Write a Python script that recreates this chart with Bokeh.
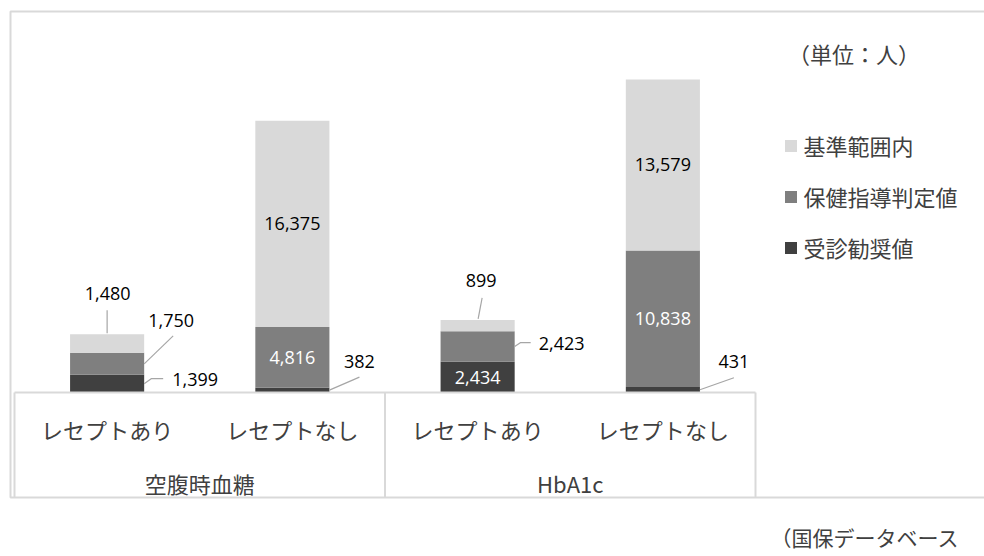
from bokeh.plotting import figure
from bokeh.models import (Range1d, ColumnDataSource, Legend, LegendItem, BoxAnnotation, Label)
from bokeh.core.properties import value
from bokeh.embed import file_html
from bokeh.resources import INLINE

# ---------------- data ----------------
groups = ["空腹時血糖", "空腹時血糖", "HbA1c", "HbA1c"]
receipts = ["レセプトあり", "レセプトなし", "レセプトあり", "レセプトなし"]
series_names = ["受診勧奨値", "保健指導判定値", "基準範囲内"]
recommend = [1399, 382, 2434, 431]      # 受診勧奨値
guidance = [1750, 4816, 2423, 10838]    # 保健指導判定値
normal = [1480, 16375, 899, 13579]      # 基準範囲内
unit_note = "（単位：人）"
source_note = "（国保データベース"

# ---------------- layout / style ----------------
W, H = 984, 556
colors = ["#404040", "#7f7f7f", "#d9d9d9"]
JP = "Noto Sans CJK JP"
NUM = "Open Sans"
Y_MAX = 30000
PLOT_L, PLOT_R, PLOT_T, BASE = 14, 755, 14, 392   # plot area in canvas pixels
n_cat = len(receipts)
cat_px = (PLOT_R - PLOT_L) / n_cat                  # pixels per category
ppu = (BASE - PLOT_T) / Y_MAX                       # pixels per value unit
BAR_W = 0.4
GRID = "#d9d9d9"


def X(px):   # canvas pixel -> x data
    return (px - PLOT_L) / cat_px


def Y(py):   # canvas pixel -> y data
    return (BASE - py) / ppu


p = figure(width=W, height=H, x_range=Range1d(X(0), X(W)), y_range=Range1d(Y(H), Y(0)),
           min_border=0, x_axis_location=None, y_axis_location=None,
           output_backend="svg", toolbar_location=None)
p.outline_line_color = None
p.xgrid.visible = False
p.ygrid.visible = False
p.background_fill_color = "white"
p.border_fill_color = "white"

xs = [i + 0.5 for i in range(n_cat)]
series = [recommend, guidance, normal]
keys = ["rec", "gui", "nor"]
src = ColumnDataSource(dict(x=xs, rec=recommend, gui=guidance, nor=normal))
renderers = p.vbar_stack(keys, x="x", width=BAR_W, color=colors, line_color=None, source=src)

# ---------------- outer border ----------------
p.add_layout(BoxAnnotation(left=X(10), right=X(W + 20), top=Y(11), bottom=Y(497),
                           fill_alpha=0, line_color=GRID, line_alpha=1, line_width=2))

# ---------------- category table (axis) ----------------
bottom_y = Y(497)
group_names = []
for g in groups:
    if g not in group_names:
        group_names.append(g)
bounds = [0]
for g in group_names:
    bounds.append(bounds[-1] + groups.count(g))
p.segment(x0=[bounds[0]], y0=[0], x1=[bounds[-1]], y1=[0], line_color=GRID, line_width=2)
p.segment(x0=bounds, y0=[0] * len(bounds), x1=bounds, y1=[bottom_y] * len(bounds),
          line_color=GRID, line_width=2)

p.text(x=xs, y=[Y(428)] * n_cat, text=receipts, text_font=value(JP), text_font_size="22px",
       text_color="#404040", text_align="center", text_baseline="middle")
gx = [(bounds[i] + bounds[i + 1]) / 2 for i in range(len(group_names))]
p.text(x=gx, y=[Y(482)] * len(gx), text=group_names, text_font=value(JP), text_font_size="22px",
       text_color="#404040", text_align="center", text_baseline="middle")

# ---------------- data labels ----------------
px_x = 1 / cat_px
px_y = 1 / ppu
# outside labels: (series, category) -> anchor, x shift (cat units), text offset px, leader pts px
outside = {
    (2, 0): ("top", 0.0, 0.5, -41, [(0.0, -1), (0.0, -24)]),
    (1, 0): ("mid", BAR_W / 2, 27, -43, [(0, 0), (29, -28)]),
    (0, 0): ("mid", BAR_W / 2, 51, -4, [(0, 0), (7, -5), (19, -5)]),
    (0, 1): ("mid", BAR_W / 2, 30, -29, [(0, 0), (30, -13)]),
    (2, 2): ("top", 0.0, 3.5, -39.5, [(0.5, -1), (4.5, -22)]),
    (1, 2): ("mid", BAR_W / 2, 47, -3, [(0, 0), (6, -4), (16, -4)]),
    (0, 3): ("mid", BAR_W / 2, 34, -28, [(0, 0), (34, -12)]),
}

lab = dict(x=[], y=[], text=[], xo=[], yo=[], color=[])
lead_xs, lead_ys = [], []
for ci in range(n_cat):
    base = 0
    for si, vals in enumerate(series):
        v = vals[ci]
        mid = base + v / 2
        top = base + v
        if (si, ci) in outside:
            anchor, xshift, dx, dy, lead = outside[(si, ci)]
            ay = top if anchor == "top" else mid
            axc = xs[ci] + xshift
            lab["x"].append(axc)
            lab["y"].append(ay)
            lab["xo"].append(dx)
            lab["yo"].append(dy)
            lab["color"].append("#000000")
            lead_xs.append([axc + a * px_x for a, b in lead])
            lead_ys.append([ay - b * px_y for a, b in lead])
        else:
            lab["x"].append(xs[ci])
            lab["y"].append(mid)
            lab["xo"].append(0)
            lab["yo"].append(0)
            lab["color"].append("#ffffff" if si < 2 else "#000000")
        lab["text"].append(f"{v:,}")
        base = top

p.multi_line(lead_xs, lead_ys, line_color="#a6a6a6", line_width=1.2)
p.text(x="x", y="y", text="text", x_offset="xo", y_offset="yo", text_color="color",
       text_font=value(NUM), text_font_size="18px", text_align="center",
       text_baseline="middle", source=ColumnDataSource(lab))

# ---------------- legend ----------------
legend = Legend(items=[LegendItem(label=series_names[i], renderers=[renderers[i]]) for i in (2, 1, 0)],
                location=(782.5, H - 263), orientation="vertical", padding=0, margin=0,
                spacing=19, glyph_width=15, glyph_height=15, label_height=26,
                label_standoff=6, label_text_font=JP, label_text_font_size="22px",
                label_text_color="#404040", border_line_color=None, background_fill_alpha=0)
p.add_layout(legend)

# ---------------- notes ----------------
p.add_layout(Label(x=X(853.5), y=Y(52), text=unit_note,
                   text_font=JP, text_font_size="22px", text_color="#404040",
                   text_align="center", text_baseline="middle"))
p.add_layout(Label(x=X(770), y=Y(536), text=source_note,
                   text_font=JP, text_font_size="21px", text_color="#404040",
                   text_align="left", text_baseline="middle"))

open("out.html", "w").write(file_html(p, INLINE))
